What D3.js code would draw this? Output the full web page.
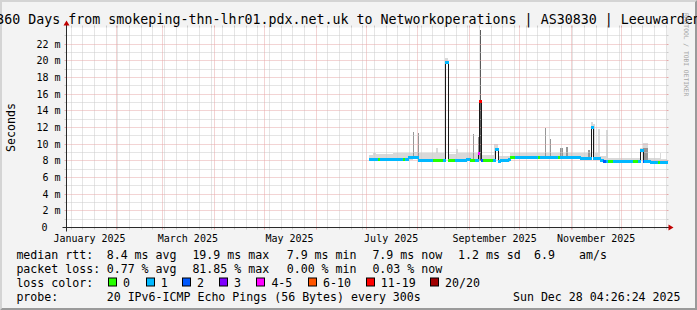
<!DOCTYPE html>
<html>
<head>
<meta charset="utf-8">
<script src="https://cdn.jsdelivr.net/npm/d3@7"></script>
<style>
  body { margin: 0; background: #f3f3f3; }
  svg { display: block; font-family: "DejaVu Sans Mono", monospace; }
</style>
</head>
<body>
<svg width="697" height="310"></svg>
<script>
const width = 697, height = 310;

// 360 days ending at the probe time
const startTime = "2025-01-02T04:26:24Z";
const endTime = "2025-12-28T04:26:24Z";

const titleText = "360 Days from smokeping-thn-lhr01.pdx.net.uk to Networkoperations | AS30830 | Leeuwarden";

// x labels sit half a month after the month start
const monthLabels = ["January 2025", "March 2025", "May 2025", "July 2025", "September 2025", "November 2025"];
const monthLabelDates = ["2025-01-16", "2025-03-16", "2025-05-16", "2025-07-16", "2025-09-16", "2025-11-16"];

// y axis, values in ms
const yTickValues = [0, 2, 4, 6, 8, 10, 12, 14, 16, 18, 20, 22];
const yTickLabels = ["0", "2 m", "4 m", "6 m", "8 m", "10 m", "12 m", "14 m", "16 m", "18 m", "20 m", "22 m"];
const yMinorValues = [1, 3, 5, 7, 9, 11, 13, 15, 17, 19, 21, 23];

// median rtt steps (ms) and loss colour class of each step
const medianStart = [
  "2025-07-02T23", "2025-07-08T09", "2025-07-09T14", "2025-07-22T19", "2025-07-24T14", "2025-07-25T19",
  "2025-07-31T19", "2025-08-09T19", "2025-08-15T19", "2025-08-17T14", "2025-08-19T02", "2025-08-23T14",
  "2025-08-30T04", "2025-09-01T14", "2025-09-04T14", "2025-09-06T09", "2025-09-06T23", "2025-09-08T04",
  "2025-09-08T19", "2025-09-09T09", "2025-09-14T19", "2025-09-16T14", "2025-09-17T19", "2025-09-19T14",
  "2025-09-23T19", "2025-09-25T14", "2025-09-28T14", "2025-10-12T09", "2025-10-13T14", "2025-10-23T19",
  "2025-10-25T14", "2025-11-06T14", "2025-11-13T04", "2025-11-14T09", "2025-11-18T14", "2025-11-20T09",
  "2025-11-22T04", "2025-11-23T09", "2025-11-25T19", "2025-12-08T09", "2025-12-10T19", "2025-12-12T14",
  "2025-12-14T09", "2025-12-14T23", "2025-12-18T14", "2025-12-22T19", "2025-12-24T14"
];
const medianRtt = [
  8.28, 8.28, 8.28, 8.28, 8.28, 8.40,
  8.10, 8.10, 8.10, 19.9, 8.10, 8.10,
  8.28, 8.10, 8.10, 8.90, 15.2, 8.10,
  8.10, 8.07, 8.07, 9.47, 7.95, 8.05,
  8.28, 8.40, 8.43, 8.43, 8.43, 8.43,
  8.43, 8.30, 12.1, 8.30, 8.15, 8.00,
  7.95, 7.95, 7.95, 7.95, 7.95, 9.35,
  7.95, 7.95, 7.85, 7.85, 7.85
];
const lossClass = [
  1, 0, 1, 0, 1, 1,
  1, 0, 1, 1, 0, 1,
  1, 0, 1, 4, 6, 2,
  1, 0, 1, 1, 1, 1,
  1, 0, 1, 0, 1, 0,
  1, 1, 1, 1, 1, 2,
  1, 0, 1, 0, 1, 1,
  2, 1, 1, 0, 1
];

// smoke: lowest ping, darker band top (0 = none), highest ping
const smokeStart = [
  "2025-07-02T23", "2025-07-05T09", "2025-07-07T04", "2025-07-17T09", "2025-07-22T19", "2025-07-28T19",
  "2025-07-29T23", "2025-08-01T02", "2025-08-01T23", "2025-08-12T04", "2025-08-13T09", "2025-08-17T14",
  "2025-08-19T02", "2025-08-24T04", "2025-08-25T09", "2025-09-03T02", "2025-09-03T23", "2025-09-05T19",
  "2025-09-07T07", "2025-09-07T21", "2025-09-08T12", "2025-09-15T23", "2025-09-16T14", "2025-09-17T19",
  "2025-09-25T14", "2025-10-16T14", "2025-10-17T04", "2025-10-19T14", "2025-10-20T04", "2025-10-25T14",
  "2025-10-26T19", "2025-10-29T04", "2025-10-30T09", "2025-11-11T09", "2025-11-12T14", "2025-11-13T04",
  "2025-11-14T09", "2025-11-15T14", "2025-11-17T09", "2025-11-18T14", "2025-11-22T04", "2025-11-23T09",
  "2025-12-12T14", "2025-12-14T09", "2025-12-17T09", "2025-12-24T14", "2025-12-25T04"
];
const smokeLo = [
  8.1, 8.1, 8.1, 8.1, 8.1, 8.2,
  8.2, 8.0, 8.0, 8.0, 8.0, 19.6,
  8.0, 8.0, 8.0, 8.0, 8.0, 8.0,
  8.0, 8.0, 8.0, 8.0, 9.3, 7.9,
  8.3, 8.3, 8.3, 8.3, 8.3, 8.3,
  8.3, 8.3, 8.3, 8.2, 8.2, 11.9,
  8.2, 8.2, 8.1, 7.9, 7.85, 7.85,
  9.1, 7.85, 7.8, 7.8, 7.8
];
const smokeMid = [
  0, 0, 0, 0, 0, 11.5,
  0, 11.4, 0, 0, 0, 0,
  0, 0, 0, 11.2, 0, 10.9,
  23.7, 10.9, 0, 0, 0, 0,
  0, 12.0, 0, 10.6, 0, 9.5,
  0, 9.7, 0, 9.3, 0, 0,
  0, 0, 0, 0, 0, 0,
  0, 9.5, 0, 0, 0
];
const smokeHi = [
  8.7, 9.0, 8.8, 8.9, 9.0, 9.2,
  9.1, 9.1, 8.9, 9.5, 8.9, 20.4,
  8.8, 9.4, 8.9, 9.0, 8.9, 10.9,
  23.7, 10.9, 8.7, 10.0, 10.0, 8.6,
  9.0, 12.0, 9.0, 10.6, 9.0, 9.5,
  9.0, 9.7, 9.0, 9.3, 9.0, 12.65,
  12.4, 9.0, 11.8, 8.6, 11.75, 8.3,
  9.6, 10.2, 8.3, 8.95, 8.2
];

const lossLabels = ["0", "1", "2", "3", "4-5", "6-10", "11-19", "20/20"];
const lossColors = ["#26ff00", "#00b8ff", "#0059ff", "#7e00ff", "#ff00ff", "#ff5500", "#ff0000", "#a10000"];

const rttStats = ["8.4 ms avg", "19.9 ms max", "7.9 ms min", "7.9 ms now", "1.2 ms sd", "6.9", "am/s"];
const lossStats = ["0.77 % avg", "81.85 % max", "0.00 % min", "0.03 % now"];
const probeText = "20 IPv6-ICMP Echo Pings (56 Bytes) every 300s";
const stampText = "Sun Dec 28 04:26:24 2025";

const parseHour = d3.utcParse("%Y-%m-%dT%H");
const parseDay = d3.utcParse("%Y-%m-%d");

const svg = d3.select("svg");

// background + bevel frame
svg.append("rect").attr("width", width).attr("height", height).attr("fill", "#f3f3f3");
svg.append("path")
  .attr("d", `M0,0 H${width} L${width - 2},2 H2 V${height - 2} L0,${height} Z`)
  .attr("fill", "#d4d4d4");
svg.append("path")
  .attr("d", `M${width},0 V${height} H0 L2,${height - 2} H${width - 2} V2 Z`)
  .attr("fill", "#9a9a9a");

const x0 = 66.5, x1 = 666.5, yBase = 227.5, yTop = 27.5;

const x = d3.scaleUtc()
  .domain([new Date(startTime), new Date(endTime)])
  .range([x0, x1]);
const y = d3.scaleLinear()
  .domain([0, 24])
  .range([yBase, yTop]);

const px = v => Math.round(v);

// canvas
svg.append("rect")
  .attr("x", x0).attr("y", yTop)
  .attr("width", x1 - x0).attr("height", yBase - yTop)
  .attr("fill", "#fff");

// smoke
const smokeEnd = smokeStart.map((d, i) => i < smokeStart.length - 1 ? parseHour(smokeStart[i + 1]) : new Date(endTime));
const smoke = svg.append("g").attr("shape-rendering", "crispEdges");
smoke.selectAll(".light")
  .data(smokeStart)
  .join("rect")
  .attr("class", "light")
  .attr("x", d => px(x(parseHour(d))))
  .attr("width", (d, i) => Math.max(1, px(x(smokeEnd[i])) - px(x(parseHour(d)))))
  .attr("y", (d, i) => px(y(smokeHi[i])))
  .attr("height", (d, i) => px(y(smokeLo[i])) - px(y(smokeHi[i])))
  .attr("fill", "#d9d9d9");
smoke.selectAll(".dark")
  .data(smokeStart.map((d, i) => i).filter(i => smokeMid[i] > smokeLo[i]))
  .join("rect")
  .attr("class", "dark")
  .attr("x", i => px(x(parseHour(smokeStart[i]))))
  .attr("width", i => Math.max(1, px(x(smokeEnd[i])) - px(x(parseHour(smokeStart[i])))))
  .attr("y", i => px(y(smokeMid[i])))
  .attr("height", i => px(y(smokeLo[i])) - px(y(smokeMid[i])))
  .attr("fill", i => smokeMid[i] > 20 ? "#5a5a5a" : "#969696");

// grid
const weeks = d3.utcSunday.range(x.domain()[0], x.domain()[1]);
const months = d3.utcMonth.range(x.domain()[0], x.domain()[1]);
const monthKeys = new Set(months.map(d => +d));
const minorCol = "#cacaca", majorCol = "#e6a8a8";

const grid = svg.append("g");
const vline = (xv, col) => {
  const xx = Math.floor(xv) + 0.5;
  grid.append("line").attr("x1", xx).attr("x2", xx).attr("y1", yTop).attr("y2", yBase)
    .attr("stroke", col).attr("stroke-dasharray", "1,1");
  grid.append("line").attr("x1", xx).attr("x2", xx).attr("y1", yBase).attr("y2", yBase + 2).attr("stroke", col);
  grid.append("line").attr("x1", xx).attr("x2", xx).attr("y1", yTop - 2).attr("y2", yTop).attr("stroke", col);
};
const hline = (yv, col) => {
  const yy = Math.floor(yv) + 0.5;
  grid.append("line").attr("x1", x0).attr("x2", x1).attr("y1", yy).attr("y2", yy)
    .attr("stroke", col).attr("stroke-dasharray", "1,1");
  grid.append("line").attr("x1", x0 - 2).attr("x2", x0).attr("y1", yy).attr("y2", yy).attr("stroke", col);
  grid.append("line").attr("x1", x1).attr("x2", x1 + 2).attr("y1", yy).attr("y2", yy).attr("stroke", col);
};
weeks.filter(d => !monthKeys.has(+d)).forEach(d => vline(x(d), minorCol));
yMinorValues.forEach(v => hline(y(v), minorCol));
months.forEach(d => vline(x(d), majorCol));
yTickValues.filter(v => v > 0).forEach(v => hline(y(v), majorCol));

// median line (thin dark) and loss coloured steps
const medianEnd = medianStart.map((d, i) => i < medianStart.length - 1 ? parseHour(medianStart[i + 1]) : new Date(endTime));
const pts = medianStart.map((d, i) => [px(x(parseHour(d))) + 0.5, px(y(medianRtt[i])) + 0.5]);
pts.push([px(x(new Date(endTime))) + 0.5, pts[pts.length - 1][1]]);

svg.append("path")
  .attr("d", d3.line().curve(d3.curveStepAfter)(pts))
  .attr("fill", "none")
  .attr("stroke", "#1a1a1a")
  .attr("stroke-width", 1);

svg.append("g")
  .selectAll("path")
  .data(medianStart)
  .join("path")
  .attr("d", (d, i) => `M${px(x(parseHour(d)))},${px(y(medianRtt[i])) + 0.5}H${px(x(medianEnd[i])) + 1}`)
  .attr("stroke", (d, i) => lossColors[lossClass[i]])
  .attr("stroke-width", 3)
  .attr("fill", "none");

// axes
const axisCol = "#2a2a2a", arrowCol = "#c00000";
svg.append("line").attr("x1", x0 - 4).attr("x2", x1 + 4).attr("y1", yBase).attr("y2", yBase).attr("stroke", axisCol);
svg.append("line").attr("x1", x0).attr("x2", x0).attr("y1", yBase + 4).attr("y2", yTop - 4).attr("stroke", axisCol);
svg.append("path")
  .attr("d", `M${x1 + 2},${yBase - 3}L${x1 + 2},${yBase + 3}L${x1 + 7},${yBase}Z`)
  .attr("fill", arrowCol);
svg.append("path")
  .attr("d", `M${x0 - 3},${yTop - 2}L${x0 + 3},${yTop - 2}L${x0},${yTop - 7}Z`)
  .attr("fill", arrowCol);

// y tick labels
svg.append("g")
  .selectAll("text")
  .data(yTickValues)
  .join("text")
  .attr("x", v => v === 0 ? 47.5 : 60.5)
  .attr("y", v => y(v))
  .attr("dy", "0.36em")
  .attr("text-anchor", "end")
  .attr("font-size", "10px")
  .text((v, i) => yTickLabels[i]);

// x labels
svg.append("g")
  .selectAll("text")
  .data(monthLabelDates)
  .join("text")
  .attr("x", d => x(parseDay(d)))
  .attr("y", 241.5)
  .attr("text-anchor", "middle")
  .attr("font-size", "10px")
  .text((d, i) => monthLabels[i]);

// title
svg.append("text")
  .attr("x", width / 2)
  .attr("y", 24)
  .attr("text-anchor", "middle")
  .attr("font-size", "13.3px")
  .text(titleText);

// y axis label
svg.append("text")
  .attr("transform", `translate(15,${(yTop + yBase) / 2}) rotate(-90)`)
  .attr("text-anchor", "middle")
  .attr("font-size", "11.6px")
  .text("Seconds");

// watermark
svg.append("text")
  .attr("transform", "translate(683.5,13) rotate(90)")
  .attr("font-size", "6.3px")
  .attr("fill", "#a6a6a6")
  .text("RRDTOOL / TOBI OETIKER");

// legend
const legend = svg.append("g").attr("font-size", "11.6px");
const rowY = [258.5, 272.5, 286.5, 300.5];
const statX = [106.7, 192.4, 286.7, 372.4, 458, 534, 579];

legend.append("text").attr("x", 16.4).attr("y", rowY[0]).text("median rtt:");
rttStats.forEach((s, i) => legend.append("text").attr("x", statX[i]).attr("y", rowY[0]).text(s));

legend.append("text").attr("x", 16.4).attr("y", rowY[1]).text("packet loss:");
lossStats.forEach((s, i) => legend.append("text").attr("x", statX[i]).attr("y", rowY[1]).text(s));

legend.append("text").attr("x", 16.4).attr("y", rowY[2]).text("loss color:");
const boxX = [108, 145.8, 182, 219, 256.4, 308, 365.8, 430];
lossLabels.forEach((l, i) => {
  legend.append("rect")
    .attr("x", Math.round(boxX[i]) + 0.5)
    .attr("y", rowY[2] - 8.5)
    .attr("width", 8)
    .attr("height", 8)
    .attr("fill", lossColors[i])
    .attr("stroke", "#000");
  legend.append("text").attr("x", boxX[i] + 15).attr("y", rowY[2]).text(l);
});

legend.append("text").attr("x", 16.4).attr("y", rowY[3]).text("probe:");
legend.append("text").attr("x", 106.7).attr("y", rowY[3]).text(probeText);
legend.append("text").attr("x", 680.5).attr("y", rowY[3]).attr("text-anchor", "end").text(stampText);
</script>
</body>
</html>
